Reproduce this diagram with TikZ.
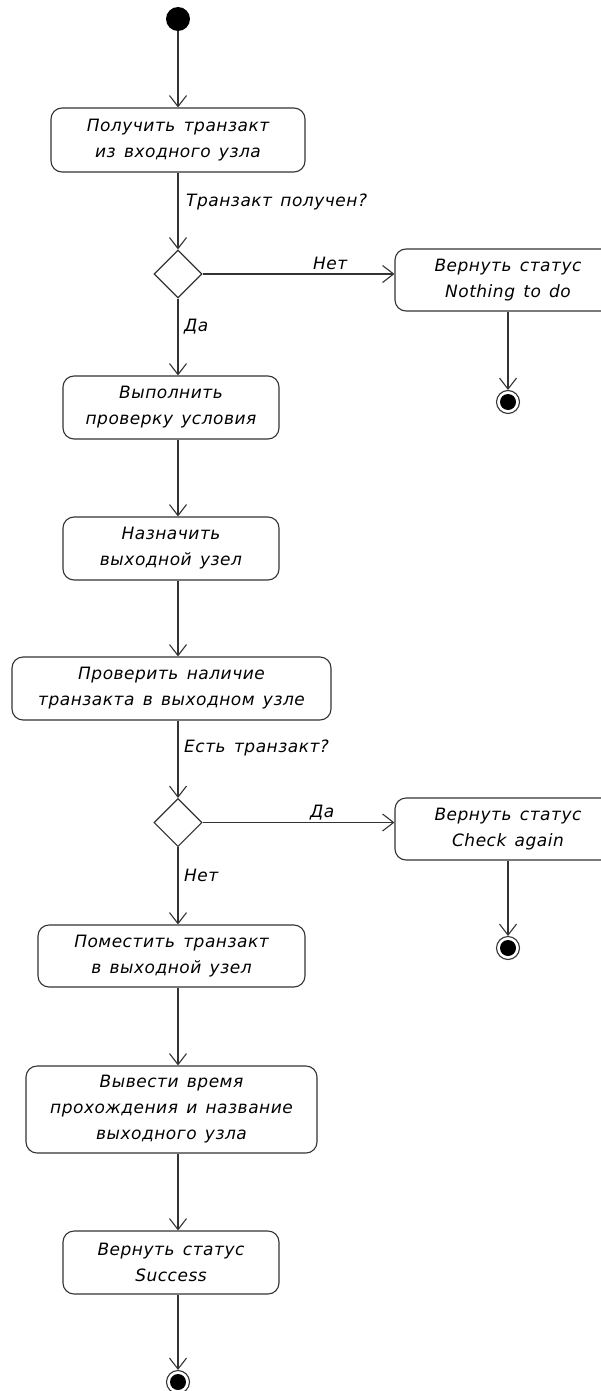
\documentclass[tikz,border=0pt]{standalone}
\usepackage{fontspec}
\setmainfont{DejaVu Sans}[LetterSpace=3,WordSpace=1.4]
\usepackage{xcolor}
\usepackage{tikz}
\usetikzlibrary{shapes.geometric,arrows.meta}

\begin{document}
\begin{tikzpicture}[x=1pt,y=-1pt,
  every node/.style={font=\fontsize{17}{26}\selectfont\itshape},
  act/.style={draw=black!80,line width=1.1pt,rounded corners=11pt,align=center,inner sep=0pt},
  dec/.style={draw=black!80,line width=1.1pt,diamond,minimum width=48pt,minimum height=48pt,inner sep=0pt},
  lbl/.style={anchor=west,inner sep=0pt},
  flow/.style={draw=black!80,line width=1.1pt,-{Straight Barb[length=11pt,width=17pt,line width=1.1pt]}},
  startnode/.style={circle,fill=black,minimum size=24pt,inner sep=0pt},
  endnode/.style={circle,draw=black!80,line width=1.1pt,minimum size=23pt,inner sep=0pt,
    path picture={\fill[black] (path picture bounding box.center) circle (8pt);}}]
\useasboundingbox (0,0) rectangle (600,1391);

\node[startnode] (start) at (178,19) {};

\node[act,minimum width=254pt,minimum height=64pt] (get) at (178,140) {Получить транзакт\\из входного узла};

\node[dec] (dec1) at (178,274) {};

\node[act,minimum width=226pt,minimum height=62pt] (nothing) at (508,280) {Вернуть статус\\Nothing to do};
\node[endnode] (end1) at (508,402) {};

\node[act,minimum width=216pt,minimum height=63pt] (check) at (171,407.5) {Выполнить\\проверку условия};

\node[act,minimum width=216pt,minimum height=63pt] (assign) at (171,548.5) {Назначить\\выходной узел};

\node[act,minimum width=319pt,minimum height=63pt] (test) at (171.5,688.5) {Проверить наличие\\транзакта в выходном узле};

\node[dec] (dec2) at (178,822.5) {};

\node[act,minimum width=226pt,minimum height=62pt] (again) at (508,829) {Вернуть статус\\Check again};
\node[endnode] (end2) at (508,948) {};

\node[act,minimum width=267pt,minimum height=62pt] (put) at (171.5,956) {Поместить транзакт\\в выходной узел};

\node[act,minimum width=291pt,minimum height=87pt] (print) at (171.5,1109.5) {Вывести время\\прохождения и название\\выходного узла};

\node[act,minimum width=216pt,minimum height=63pt] (ret) at (171,1262.5) {Вернуть статус\\Success};

\node[endnode] (end3) at (178,1382) {};

% guards
\node[lbl] (q1) at (186,202) {Транзакт получен?};
\node[lbl] (no1) at (313,263) {Нет};
\node[lbl] (yes1) at (184,327) {Да};
\node[lbl] (q2) at (184,748) {Есть транзакт?};
\node[lbl] (yes2) at (310,813) {Да};
\node[lbl] (no2) at (184,875) {Нет};

\draw[flow] (start) -- (get);
\draw[flow] (get) -- (dec1);
\draw[flow] (dec1) -- (nothing.west |- dec1);
\draw[flow] (nothing) -- (end1);
\draw[flow] (dec1) -- (check.north -| dec1);
\draw[flow] (check.south -| dec1) -- (assign.north -| dec1);
\draw[flow] (assign.south -| dec1) -- (test.north -| dec1);
\draw[flow] (test.south -| dec1) -- (dec2);
\draw[flow] (dec2) -- (again.west |- dec2);
\draw[flow] (again) -- (end2);
\draw[flow] (dec2) -- (put.north -| dec2);
\draw[flow] (put.south -| dec2) -- (print.north -| dec2);
\draw[flow] (print.south -| dec2) -- (ret.north -| dec2);
\draw[flow] (ret.south -| dec2) -- (end3);

\end{tikzpicture}
\end{document}
